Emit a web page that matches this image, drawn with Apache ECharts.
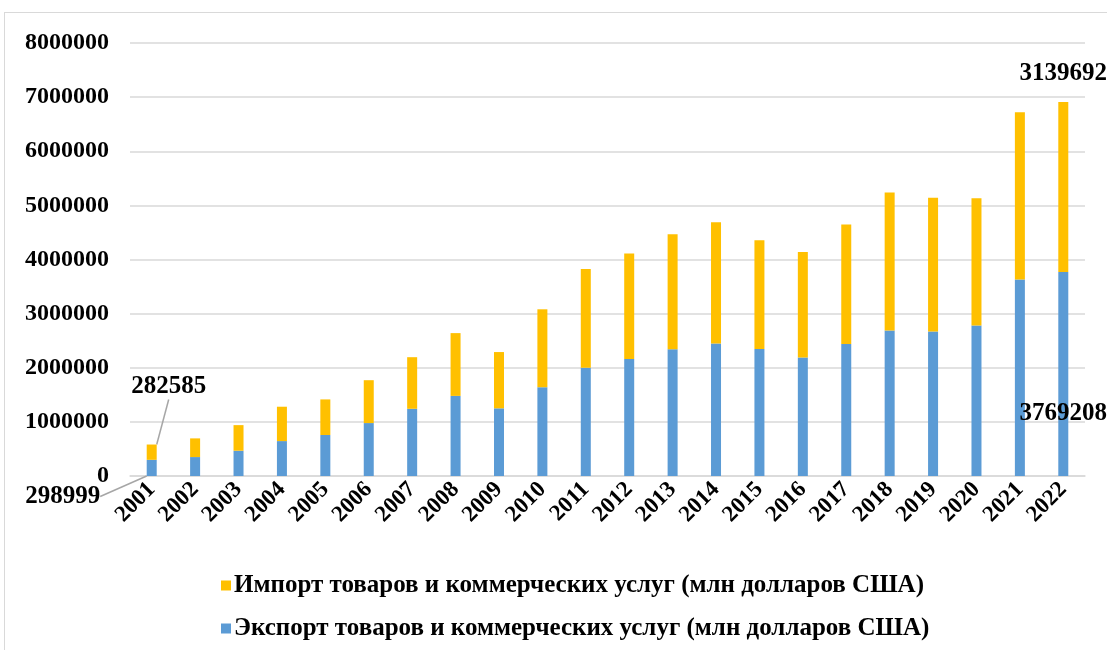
<html>
<head>
    <meta charset="UTF-8">
    <title>Chart</title>
    <script src="https://cdn.jsdelivr.net/npm/echarts@6/dist/echarts.min.js"></script>
    <style>
        body{
            margin: 0;
            background: #fff;
        }
        #main{
            width: 1107px;
            height: 650px;
        }
        /*рамка вокруг диаграммы*/
        .frame{
            position: absolute;
            left: 4px;
            top: 12px;
            width: 1120px;
            height: 660px;
            border: 1px solid #d9d9d9;
            pointer-events: none;
        }
    </style>
</head>
<body>
<div id="main"></div>
<div class="frame"></div>

<script>
    const years = ['2001', '2002', '2003', '2004', '2005', '2006', '2007', '2008', '2009', '2010', '2011',
        '2012', '2013', '2014', '2015', '2016', '2017', '2018', '2019', '2020', '2021', '2022'];
    const exportVals = [298999, 350000, 467000, 645000, 757000, 978000, 1242000, 1480000, 1250000, 1640000, 2000000,
        2160000, 2340000, 2450000, 2345000, 2190000, 2440000, 2690000, 2670000, 2780000, 3630000, 3769208];
    const importVals = [282585, 345000, 473000, 635000, 658000, 792000, 953000, 1160000, 1040000, 1440000, 1825000,
        1950000, 2125000, 2240000, 2010000, 1950000, 2205000, 2550000, 2470000, 2350000, 3090000, 3139692];
    const importName = 'Импорт товаров и коммерческих услуг (млн долларов США)';
    const exportName = 'Экспорт товаров и коммерческих услуг (млн долларов США)';

    const font = 'Liberation Serif';
    const labelFont = {fontFamily: font, fontWeight: 'bold', fontSize: 25, color: '#000'};

    let chart = echarts.init(document.getElementById('main'));

    // подписи только у первого и последнего года
    function withLabels(vals, first, last) {
        return vals.map(function (v, i) {
            if (i === 0) return {value: v, label: Object.assign({show: true}, first), labelLine: {show: true, lineStyle: {color: '#a6a6a6', width: 1.5}}};
            if (i === vals.length - 1) return {value: v, label: Object.assign({show: true}, last)};
            return v;
        });
    }

    let option = {
        animation: false,
        textStyle: {fontFamily: font},
        grid: {left: 130, right: 22, top: 43, bottom: 174},
        legend: {
            orient: 'vertical',
            left: 216,
            top: 568,
            icon: 'rect',
            itemWidth: 10,
            itemHeight: 10,
            itemGap: 18,
            data: [importName, exportName],
            textStyle: {fontFamily: font, fontWeight: 'bold', fontSize: 25, color: '#000', padding: [0, 0, 0, -2]}
        },
        xAxis: {
            type: 'category',
            data: years,
            axisLine: {lineStyle: {color: '#d9d9d9', width: 1.5}},
            axisTick: {show: false},
            axisLabel: {interval: 0, rotate: 45, margin: 10, fontFamily: font, fontWeight: 'bold', fontSize: 23, color: '#000'}
        },
        yAxis: {
            type: 'value',
            min: 0,
            max: 8000000,
            interval: 1000000,
            axisLabel: {
                margin: 21, fontFamily: font, fontWeight: 'bold', fontSize: 24, color: '#000',
                formatter: function (v) { return String(v); }
            },
            splitLine: {lineStyle: {color: '#d9d9d9', width: 1.5}}
        },
        series: [
            {
                name: exportName,
                type: 'bar',
                stack: 'total',
                barWidth: 10,
                itemStyle: {color: '#5B9BD5'},
                label: {show: false},
                labelLayout: function (p) {
                    if (p.dataIndex === 0) return {dx: -89, dy: 6};
                    return {};
                },
                data: withLabels(exportVals,
                    Object.assign({position: 'bottom', distance: 2}, labelFont),
                    Object.assign({position: 'insideBottom', distance: 50}, labelFont))
            },
            {
                name: importName,
                type: 'bar',
                stack: 'total',
                barWidth: 10,
                itemStyle: {color: '#FFC000'},
                label: {show: false},
                labelLayout: function (p) {
                    if (p.dataIndex === 0) return {dx: 17, dy: -40};
                    return {};
                },
                data: withLabels(importVals,
                    Object.assign({position: 'top', distance: 5}, labelFont),
                    Object.assign({position: 'top', distance: 16}, labelFont))
            }
        ]
    };

    chart.setOption(option);
</script>
</body>
</html>
